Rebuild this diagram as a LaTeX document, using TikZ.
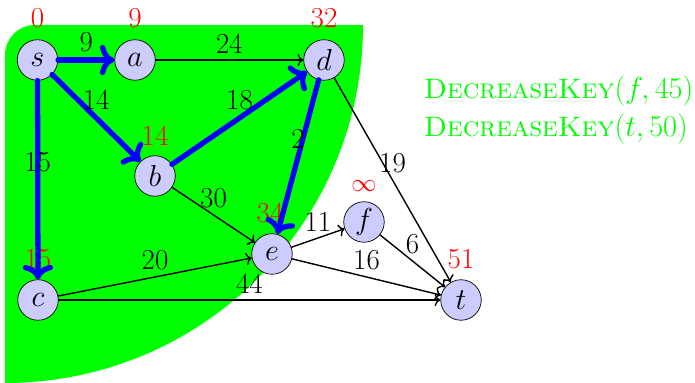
\documentclass[tikz,border=0pt]{standalone}
\usepackage{amsmath}
\usetikzlibrary{arrows.meta,positioning,backgrounds}

\newcommand{\graphfont}{\fontsize{16.5}{20}\selectfont}
\newcommand{\opfont}{\fontsize{16}{19}\selectfont}

\begin{document}
\begin{tikzpicture}[x=1cm,y=1cm, line cap=round, line join=round]

  \tikzset{
    vertex/.style={circle, draw=black, fill=blue!20, minimum size=0.81cm, inner sep=0pt, font=\graphfont},
    edge/.style={->, thick, draw=black},
    tree/.style={->, line width=3pt, draw=blue},
    weight/.style={font=\graphfont, text=black},
    dist/.style={font=\graphfont, text=red, inner sep=0pt},
    op/.style={font=\opfont, text=green, anchor=base west, inner sep=0pt}
  }

  \path[use as bounding box] (0,0) rectangle (13.9,7.66);

  % vertices
  \node[vertex] (s) at (0.75,6.46) {$s$};
  \node[vertex] (a) at (2.70,6.46) {$a$};
  \node[vertex] (d) at (6.48,6.46) {$d$};
  \node[vertex] (b) at (3.10,4.14) {$b$};
  \node[vertex] (e) at (5.44,2.58) {$e$};
  \node[vertex] (f) at (7.28,3.22) {$f$};
  \node[vertex] (c) at (0.76,1.66) {$c$};
  \node[vertex] (t) at (9.22,1.66) {$t$};

  % settled region
  \coordinate (o) at (0.1,7.16);
  \begin{scope}[on background layer]
    \clip[rounded corners=0.6cm] (0.1,-1) rectangle (9,7.16);
    \fill[green] (o) circle (7.16);
  \end{scope}

  % tentative distances
  \node[dist, above=0.22cm of s] (ds) {0};
  \node[dist, above=0.22cm of a] (da) {9};
  \node[dist, above=0.22cm of d] (dd) {32};
  \node[dist, above=0.2cm of b] (db) {14};
  \node[dist, above=0.2cm of e, xshift=-0.04cm] (de) {34};
  \node[dist, above=0.19cm of f, font=\fontsize{15.5}{18}\selectfont] (df) {$\infty$};
  \node[dist, above=0.2cm of c] (dc) {15};
  \node[dist, above=0.2cm of t] (dt) {51};

  % edges
  \foreach \u/\v/\w in {a/d/24, d/t/19, b/e/30, c/e/20, c/t/44, e/f/11, e/t/16, f/t/6}
    \draw[edge] (\u) -- node[weight, above] (w\u\v) {\w} (\v);
  \foreach \u/\v/\w in {s/a/9, s/b/14, s/c/15, b/d/18, d/e/2}
    \draw[tree] (\u) -- node[weight, above] (w\u\v) {\w} (\v);

  % pending operations
  \node[op] (dk1) at (8.47,5.68) {\textsc{DecreaseKey}$(f,45)$};
  \node[op] (dk2) at (8.47,4.92) {\textsc{DecreaseKey}$(t,50)$};
\end{tikzpicture}
\end{document}
